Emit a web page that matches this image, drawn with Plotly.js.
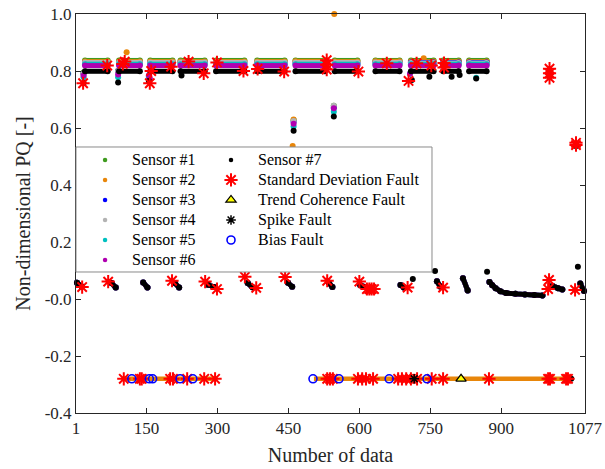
<!DOCTYPE html>
<html><head><meta charset="utf-8">
<script src="https://cdn.plot.ly/plotly-3.0.1.min.js"></script>
<style>html,body{margin:0;padding:0;background:#fff}#chart{width:605px;height:469px}</style>
</head><body><div id="chart"></div>
<script>
// ---------------- data ----------------
const sensorNames  = ['Sensor #1','Sensor #2','Sensor #3','Sensor #4','Sensor #5','Sensor #6','Sensor #7'];
const sensorColors = ['#3f9b1f','#e8860a','#0000ff','#b3b3b3','#00c0c0','#b000b0','#000000'];

// runs where the sensors sit in the high band (first / last data index of each run)
const bandStart = [20, 92, 158, 222, 297, 384, 465, 548, 634, 709, 777, 832];
const bandEnd   = [68, 136, 205, 273, 357, 442, 527, 596, 685, 757, 810, 869];
// high-band level of each sensor in each run
const level1 = [0.837,0.837,0.837,0.837,0.837,0.837,0.837,0.837,0.837,0.837,0.837,0.837];
const level2 = [0.833,0.833,0.833,0.833,0.833,0.833,0.834,0.833,0.834,0.833,0.833,0.833];
const level3 = [0.828,0.828,0.828,0.829,0.828,0.828,0.828,0.828,0.829,0.830,0.830,0.830];
const level4 = [0.830,0.830,0.830,0.830,0.830,0.830,0.830,0.830,0.830,0.828,0.828,0.828];
const level5 = [0.824,0.824,0.824,0.824,0.824,0.824,0.824,0.824,0.824,0.824,0.824,0.824];
const level6 = [0.819,0.819,0.819,0.819,0.819,0.819,0.819,0.819,0.819,0.819,0.819,0.819];
const level7 = [0.799,0.799,0.799,0.799,0.799,0.799,0.799,0.799,0.799,0.799,0.799,0.799];
const levels = [level1, level2, level3, level4, level5, level6, level7];

// low-band runs (start-up of each batch), common to all sensors
const lowX = [3,13,null,76,85,null,143,152,null,210,219,null,280,293,null,364,374,null,449,458,null,535,543,null,
              602,628,null,687,694,null,764,771,null,819,829,null,
              875,881,888,898,910,930,950,970,987,null,1008,1020,1029,null,1067,1075];
const lowY = [0.057,0.044,null,0.056,0.040,null,0.058,0.040,null,0.056,0.040,null,0.050,0.042,null,0.056,0.041,null,0.057,0.043,null,0.058,0.042,null,
              0.048,0.036,null,0.049,0.040,null,0.062,0.044,null,0.073,0.030,null,
              0.060,0.048,0.038,0.027,0.021,0.018,0.016,0.014,0.012,null,0.046,0.038,0.033,null,0.054,0.028];

// isolated points of each sensor (transients, spikes)
const extra1X = [17, 90, 461, 546, 1058];
const extra1Y = [0.795, 0.800, 0.628, 0.678, 0.545];
const extra2X = [17, 90, 108, 459, 461, 547, 736, 1058];
const extra2Y = [0.790, 0.800, 0.866, 0.537, 0.630, 1.000, 0.845, 0.545];
const extra3X = [17, 90, 461, 546, 1058];
const extra3Y = [0.790, 0.800, 0.622, 0.672, 0.543];
const extra4X = [17, 90, 461, 546, 1058];
const extra4Y = [0.790, 0.800, 0.625, 0.678, 0.545];
const extra5X = [17, 90, 155, 461, 546, 707, 847, 1058];
const extra5Y = [0.778, 0.778, 0.780, 0.605, 0.657, 0.790, 0.776, 0.538];
const extra6X = [17, 90, 155, 157, 461, 546, 707, 1058];
const extra6Y = [0.784, 0.788, 0.785, 0.775, 0.615, 0.669, 0.790, 0.542];
const extra7X = [17, 90, 155, 224, 461, 546, 711, 713, 748, 760, 795, 812, 847, 870, 1048, 1058, 1062];
const extra7Y = [0.758, 0.760, 0.765, 0.784, 0.590, 0.640, 0.768, 0.070, 0.780, 0.098, 0.780, 0.786, 0.774, 0.096, -0.280, 0.537, 0.113];
const extraX = [extra1X, extra2X, extra3X, extra4X, extra5X, extra6X, extra7X];
const extraY = [extra1Y, extra2Y, extra3Y, extra4Y, extra5Y, extra6Y, extra7Y];

// fault-flag row
const rowX = [104, 299, null, 504, 1046];
const rowY = [-0.28, -0.28, null, -0.28, -0.28];

// detected faults
const sdX = [16,67,100,104,157,160,202,239,271,299,355,385,441,531,531,531,598,658,704,721,752,779,779,1002,1002,1002,1058,1058,
             14,69,204,274,299,358,382,443,532,600,616,621,626,631,702,777,999,1001,1056,
             102,136,140,200,206,236,272,295,532,538,544,597,606,614,629,682,690,699,709,722,753,777,874,999,1003,1037,1041];
const sdY = [0.757,0.819,0.825,0.833,0.757,0.800,0.815,0.833,0.792,0.830,0.800,0.807,0.798,0.805,0.822,0.838,0.798,0.827,0.765,0.827,0.819,0.812,0.828,0.776,0.792,0.808,0.540,0.548,
             0.042,0.061,0.064,0.061,0.035,0.078,0.039,0.077,0.064,0.061,0.035,0.035,0.035,0.035,0.040,0.040,0.035,0.067,0.032,
             -0.28,-0.28,-0.28,-0.28,-0.28,-0.28,-0.28,-0.28,-0.28,-0.28,-0.28,-0.28,-0.28,-0.28,-0.28,-0.28,-0.28,-0.28,-0.28,-0.28,-0.28,-0.28,-0.28,-0.28,-0.28,-0.28,-0.28];
const trendX = [815];
const trendY = [-0.28];
const spikeX = [716];
const spikeY = [-0.28];
const biasX = [119, 156, 163, 221, 248, 502, 557, 663, 743];
const biasY = [-0.28, -0.28, -0.28, -0.28, -0.28, -0.28, -0.28, -0.28, -0.28];

const faultNames = ['Standard Deviation Fault','Trend Coherence Fault','Spike Fault','Bias Fault'];

const xTickVals = [1, 150, 300, 450, 600, 750, 900, 1077];
const xTickText = ['1','150','300','450','600','750','900','1077'];
const yTickVals = [-0.4, -0.2, 0, 0.2, 0.4, 0.6, 0.8, 1.0];
const yTickText = ['-0.4','-0.2','-0.0','0.2','0.4','0.6','0.8','1.0'];

// ---------------- build traces ----------------
const FONT = 'Liberation Serif, Times New Roman, serif';
const lg = s => '<span style="font-size:16px">' + s + '</span>';
const traces = [];
for (let k = 0; k < 7; k++) {
  const x = [], y = [];
  for (let s = 0; s < bandStart.length; s++) {
    x.push(bandStart[s], bandEnd[s], null);
    y.push(levels[k][s], levels[k][s], null);
  }
  for (let i = 0; i < lowX.length; i++) { x.push(lowX[i]); y.push(lowY[i]); }
  x.push(null); y.push(null);
  for (let i = 0; i < extraX[k].length; i++) { x.push(extraX[k][i], null); y.push(extraY[k][i], null); }
  traces.push({x, y, type: 'scatter', mode: 'lines+markers', showlegend: false, hoverinfo: 'skip',
    cliponaxis: false, line: {color: sensorColors[k], width: 5},
    marker: {color: sensorColors[k], size: 6}});
}
traces.push({x: rowX, y: rowY, type: 'scatter', mode: 'lines', showlegend: false,
  line: {color: sensorColors[1], width: 4.5}});
// legend entries for the sensors
for (let k = 0; k < 7; k++) {
  traces.push({x: [null], y: [null], type: 'scatter', mode: 'markers', name: lg(sensorNames[k]),
    legend: k < 6 ? 'legend' : 'legend2', marker: {color: sensorColors[k], size: 4.5}});
}
traces.push({x: sdX, y: sdY, type: 'scatter', mode: 'markers', name: lg(faultNames[0]), legend: 'legend2',
  marker: {symbol: 'asterisk-open', size: 11, color: '#ff0000', line: {color: '#ff0000', width: 2}}});
traces.push({x: trendX, y: trendY, type: 'scatter', mode: 'markers', name: lg(faultNames[1]), legend: 'legend2',
  marker: {symbol: 'triangle-up', size: 9, color: '#ffff00', line: {color: '#000000', width: 1.2}}});
traces.push({x: spikeX, y: spikeY, type: 'scatter', mode: 'markers', name: lg(faultNames[2]), legend: 'legend2',
  marker: {symbol: 'asterisk-open', size: 8, color: '#000000', line: {color: '#000000', width: 1.5}}});
traces.push({x: biasX, y: biasY, type: 'scatter', mode: 'markers', name: lg(faultNames[3]), legend: 'legend2',
  marker: {symbol: 'circle-open', size: 8, color: '#0000ff', line: {color: '#0000ff', width: 1.6}}});

const axisCommon = {showline: true, mirror: 'ticks', ticks: 'inside', ticklen: 5, tickcolor: '#262626',
  linecolor: '#262626', linewidth: 1, showgrid: false, zeroline: false,
  tickfont: {family: FONT, size: 17, color: '#262626'}};

const legendCommon = {bgcolor: 'rgba(0,0,0,0)', borderwidth: 0, xanchor: 'left', yanchor: 'top',
  itemwidth: 44, font: {family: FONT, size: 13.1, color: '#000'}, itemclick: false, itemdoubleclick: false};

const layout = {
  width: 605, height: 469,
  margin: {l: 76, r: 20, t: 14, b: 56},
  paper_bgcolor: '#fff', plot_bgcolor: '#fff',
  showlegend: true,
  xaxis: Object.assign({}, axisCommon, {range: [1, 1077], tickvals: xTickVals, ticktext: xTickText,
    title: {text: 'Number of data', font: {family: FONT, size: 20, color: '#262626'}, standoff: 10}}),
  yaxis: Object.assign({}, axisCommon, {range: [-0.4, 1.0], tickvals: yTickVals, ticktext: yTickText,
    title: {text: 'Non-dimensional PQ [-]', font: {family: FONT, size: 20, color: '#262626'}, standoff: 8}}),
  legend: Object.assign({}, legendCommon, {x: 0.004, y: 0.672}),
  legend2: Object.assign({}, legendCommon, {x: 0.2515, y: 0.672}),
  shapes: [{type: 'rect', xref: 'paper', yref: 'paper', x0: 0, x1: 0.6994, y0: 0.3534, y1: 0.6667,
    fillcolor: '#ffffff', line: {color: '#8a8a8a', width: 1}, layer: 'above'}]
};

Plotly.newPlot('chart', traces, layout, {staticPlot: true, displayModeBar: false});
</script>
</body></html>
